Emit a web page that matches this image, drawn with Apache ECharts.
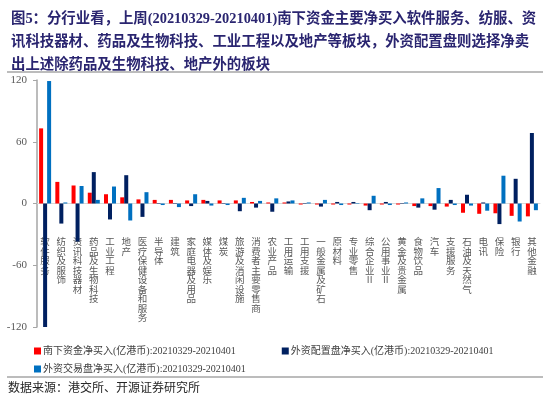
<!DOCTYPE html>
<html>
<head>
<meta charset="utf-8">
<script src="https://cdn.jsdelivr.net/npm/echarts@6/dist/echarts.min.js"></script>
<style>
    html, body { margin: 0; padding: 0; background: #fff; }
    #chart { width: 550px; height: 396px; }
</style>
</head>
<body>
<div id="chart"></div>
<script>
// 行业分类
var categories = ['软件服务', '纺织及服饰', '资讯科技器材', '药品及生物科技', '工业工程', '地产', '医疗保健设备和服务',
    '半导体', '建筑', '家庭电器及用品', '媒体及娱乐', '煤炭', '旅游及消闲设施', '消费者主要零售商', '农业产品',
    '工用运输', '工用支援', '一般金属及矿石', '原材料', '专业零售', '综合企业II', '公用事业II', '黄金及贵金属',
    '食物饮品', '汽车', '支援服务', '石油及天然气', '电讯', '保险', '银行', '其他金融'];
// 南下资金净买入(亿港币)
var southbound = [73, 21, 17.5, 10.5, 9, 6, 4, 3.5, 3.5, 3, 3.5, 3, 3, 1.5, 1, 1, -1, -1, -1, -1, -2,
    -1, -1, -2.5, -2.5, -3, -9, -10, -9.5, -12, -12.5];
// 外资配置盘净买入(亿港币)
var allocation = [-120, -19.5, -37, 30.5, -15.5, 27.5, -13, 0.5, -0.5, -2.5, 2.5, 0.5, -7.5, -4, -8, 2, -0.5,
    -3, 1.5, 1.5, -6.5, 1.5, 0.5, -4, -6, 3.5, 8.5, 1, -20, 24, 68.5];
// 外资交易盘净买入(亿港币)
var trading = [119, 1, 17, 3.5, 16.5, -16.5, 11, -1.5, -3.5, 9, -2, -1.5, 5.5, 2.5, 5, 3, 1, 3.5, -1.5, 0.5,
    7.5, -1.5, 1, 5, 15, -1.5, -2, -7, 27, -17.5, -6.5];
var yTicks = [-120, -60, 0, 60, 120];

var period = '20210329-20210401';
var names = ['南下资金净买入(亿港币):' + period, '外资配置盘净买入(亿港币):' + period, '外资交易盘净买入(亿港币):' + period];
var colors = ['#FF0000', '#002060', '#0070C0'];

var titleText = '图5：分行业看，上周(20210329-20210401)南下资金主要净买入软件服务、纺服、资\n' +
    '讯科技器材、药品及生物科技、工业工程以及地产等板块，外资配置盘则选择净卖\n' +
    '出上述除药品及生物科技、地产外的板块';

var serif = 'Liberation Serif, Noto Sans CJK SC';
var chart = echarts.init(document.getElementById('chart'));

var legendStyle = {
    icon: 'rect',
    itemWidth: 7,
    itemHeight: 7,
    itemGap: 46,
    textStyle: { fontSize: 10, color: '#404040', fontFamily: serif, padding: [0, 0, 0, -3] }
};

var option = {
    animation: false,
    backgroundColor: '#fff',
    title: {
        text: titleText,
        left: 6,
        top: 3,
        textStyle: {
            fontSize: 14.4,
            lineHeight: 23,
            fontWeight: 'bold',
            color: '#2A2570',
            fontFamily: serif
        }
    },
    grid: { left: 37, right: 10, top: 80, bottom: 69, containLabel: false, outerBoundsMode: 'none' },
    xAxis: {
        type: 'category',
        data: categories,
        axisLine: { onZero: true, lineStyle: { color: '#D9D9D9', width: 1 } },
        axisTick: { show: false },
        axisLabel: {
            interval: 0,
            margin: -90,
            fontSize: 9.5,
            lineHeight: 9.5,
            color: '#595959',
            fontFamily: 'Noto Sans CJK SC',
            formatter: function (v) {
                return v.match(/II|./g).join('\n');
            }
        }
    },
    yAxis: {
        type: 'value',
        min: yTicks[0],
        max: yTicks[yTicks.length - 1],
        interval: 60,
        axisLine: { show: true, lineStyle: { color: '#A6A6A6', width: 1.5 } },
        axisTick: { show: true, length: 4, lineStyle: { color: '#A6A6A6' } },
        splitLine: { show: false },
        axisLabel: { fontSize: 11, color: '#595959', fontFamily: 'Liberation Serif', margin: 10 }
    },
    series: [],
    graphic: [
        { type: 'line', shape: { x1: 7, y1: 72, x2: 543, y2: 72 }, style: { stroke: '#A6A6A6', lineWidth: 1.5 } },
        { type: 'line', shape: { x1: 7, y1: 377, x2: 543, y2: 377 }, style: { stroke: '#A6A6A6', lineWidth: 1.5 } },
        {
            type: 'text', left: 8, top: 381,
            style: { text: '数据来源：港交所、开源证券研究所', fontSize: 12, fill: '#262626', fontFamily: 'Noto Sans CJK SC' }
        }
    ]
};

option.legend = [
    Object.assign({ data: [names[0], names[1]], left: 29, top: 341 }, legendStyle),
    Object.assign({ data: [names[2]], left: 29, top: 359 }, legendStyle)
];

var seriesData = [southbound, allocation, trading];
for (var i = 0; i < 3; i++) {
    option.series.push({
        name: names[i],
        type: 'bar',
        data: seriesData[i],
        barWidth: 4,
        barGap: '0%',
        itemStyle: { color: colors[i] }
    });
}

chart.setOption(option);
</script>
</body>
</html>
